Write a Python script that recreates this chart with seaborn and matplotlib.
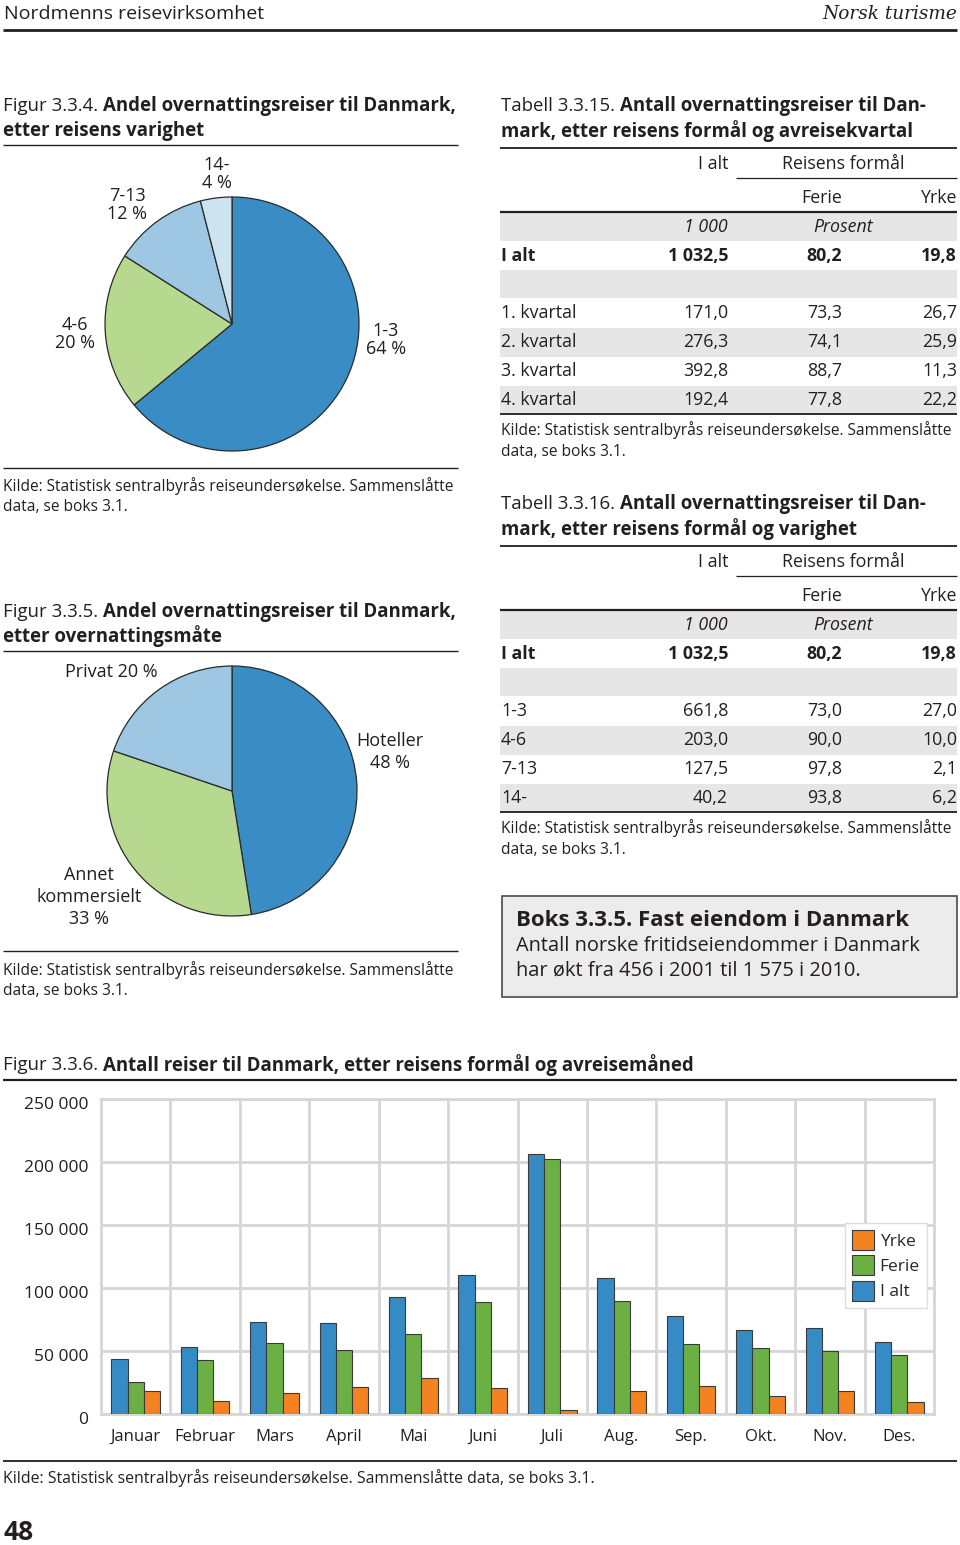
import numpy as np
import pandas as pd
import matplotlib
matplotlib.use("Agg")
import matplotlib.pyplot as plt
import matplotlib.transforms as mtransforms
import seaborn as sns
from matplotlib import font_manager
from matplotlib.patches import Rectangle, Patch
from matplotlib.ticker import FuncFormatter

# ---------------- data ----------------
header_left = "Nordmenns reisevirksomhet"
header_right = "Norsk turisme"
source_text = "Kilde: Statistisk sentralbyrås reiseundersøkelse. Sammenslåtte"
source_text2 = "data, se boks 3.1."

pie1_labels = ["1-3", "4-6", "7-13", "14-"]
pie1_values = [64, 20, 12, 4]

pie2_labels = ["Hoteller", "Annet\nkommersielt", "Privat"]
pie2_values = [48, 33, 20]

tab_total = ["1 032,5", "80,2", "19,8"]
tab15_rows = ["1. kvartal", "2. kvartal", "3. kvartal", "4. kvartal"]
tab15_ialt = ["171,0", "276,3", "392,8", "192,4"]
tab15_ferie = ["73,3", "74,1", "88,7", "77,8"]
tab15_yrke = ["26,7", "25,9", "11,3", "22,2"]
tab16_rows = ["1-3", "4-6", "7-13", "14-"]
tab16_ialt = ["661,8", "203,0", "127,5", "40,2"]
tab16_ferie = ["73,0", "90,0", "97,8", "93,8"]
tab16_yrke = ["27,0", "10,0", "2,1", "6,2"]

months = ["Januar", "Februar", "Mars", "April", "Mai", "Juni", "Juli",
          "Aug.", "Sep.", "Okt.", "Nov.", "Des."]
series = ["I alt", "Ferie", "Yrke"]
ialt = [43600, 53200, 73300, 72500, 92600, 110000, 206000, 108200, 77500, 66400, 68500, 56900]
ferie = [25100, 42900, 56100, 50800, 63800, 89200, 202400, 90000, 55300, 52100, 49700, 46600]
yrke = [18000, 10000, 16900, 21400, 28600, 20900, 3200, 18000, 22000, 14000, 18300, 9500]
yticks = [0, 50000, 100000, 150000, 200000, 250000]

# ---------------- style ----------------
sns.set_style("white")
avail = {f.name for f in font_manager.fontManager.ttflist}
MAIN = "Open Sans" if "Open Sans" in avail else "DejaVu Sans"
COND = "Liberation Sans Narrow" if "Liberation Sans Narrow" in avail else MAIN
plt.rcParams["font.family"] = [MAIN, "DejaVu Sans"]

INK = "#231f20"
GRAY = "#e6e6e6"
BLUE = "#3a8cc4"
PGREEN = "#b7d98f"
PLBLUE = "#9dc7e2"
PVLBLUE = "#cde3f0"
BBLUE = "#368bc5"
BGREEN = "#6cb043"
BORANGE = "#f48220"
GRID = "#d6d6d6"

W, H = 960, 1545
fig = plt.figure(figsize=(W / 100, H / 100), dpi=100)
page = fig.add_axes([0, 0, 1, 1])
page.set_xlim(0, W)
page.set_ylim(H, 0)
page.axis("off")


def rect(x0, y0, x1, y1):
    return [x0 / W, 1 - y1 / H, (x1 - x0) / W, (y1 - y0) / H]


def hline(y, x0, x1, lw=1.0, color=INK):
    page.plot([x0, x1], [y, y], color=color, lw=lw, solid_capstyle="butt", zorder=3)


def band(y0, y1, x0=500, x1=957):
    page.add_patch(Rectangle((x0, y0), x1 - x0, y1 - y0, facecolor=GRAY, edgecolor="none", zorder=1))


def txt(x, y, s, size, ha="left", weight="normal", style="normal", family=None, **kw):
    return page.text(x, y, s, fontsize=size, ha=ha, va="center", fontweight=weight,
                     fontstyle=style, color=INK, family=family or [MAIN, "DejaVu Sans"],
                     zorder=4, **kw)


def rich(x, y, parts, size):
    prev = None
    for s, w in parts:
        if prev is None:
            prev = txt(x, y, s, size, weight=w)
        else:
            prev = page.annotate(s, xy=(1, 0.5), xycoords=prev, va="center", ha="left",
                                 fontsize=size, fontweight=w, color=INK, zorder=4)
    return prev


TS = 13.4   # title size
BS = 12.8   # table body
SS = 11.2   # source size
PS = 13.0   # pie labels

# ---------------- header ----------------
txt(4, 14, header_left, 14)
txt(957, 14, header_right, 13.3, ha="right", style="italic", family=["DejaVu Serif"])
hline(30, 3, 957, lw=2.0)

# ---------------- Figur 3.3.4 ----------------
rich(3, 106, [("Figur 3.3.4. ", "normal"), ("Andel overnattingsreiser til Danmark,", "bold")], TS)
txt(3, 131, "etter reisens varighet", TS, weight="bold")
hline(145, 3, 458, lw=1.0)

ax1 = fig.add_axes(rect(232 - 130, 324 - 130, 232 + 130, 324 + 130))
ax1.pie(pie1_values, colors=[BLUE, PGREEN, PLBLUE, PVLBLUE], startangle=90, counterclock=False,
        wedgeprops=dict(edgecolor="#2a2a2a", linewidth=0.9))
ax1.set_xlim(-130 / 127, 130 / 127)
ax1.set_ylim(-130 / 127, 130 / 127)
ax1.set_aspect("equal")
ax1.axis("off")
pie1_pos = [(386, 340), (75, 334), (127, 205), (217, 174)]
for (px, py), lab, v in zip(pie1_pos, pie1_labels, pie1_values):
    txt(px, py, f"{lab}\n{v} %", PS, ha="center", multialignment="center", linespacing=1.0)

hline(468, 3, 458, lw=1.0)
txt(3, 486, source_text, SS)
txt(3, 507, source_text2, SS)

# ---------------- Figur 3.3.5 ----------------
rich(3, 612, [("Figur 3.3.5. ", "normal"), ("Andel overnattingsreiser til Danmark,", "bold")], TS)
txt(3, 636, "etter overnattingsmåte", TS, weight="bold")
hline(651, 3, 458, lw=1.0)

ax2 = fig.add_axes(rect(232 - 128, 791 - 128, 232 + 128, 791 + 128))
ax2.pie(pie2_values, colors=[BLUE, PGREEN, PLBLUE], startangle=90, counterclock=False,
        wedgeprops=dict(edgecolor="#2a2a2a", linewidth=0.9))
ax2.set_xlim(-128 / 125, 128 / 125)
ax2.set_ylim(-128 / 125, 128 / 125)
ax2.set_aspect("equal")
ax2.axis("off")
txt(390, 752, f"{pie2_labels[0]}\n{pie2_values[0]} %", PS, ha="center", multialignment="center", linespacing=1.32)
txt(89, 897, f"{pie2_labels[1]}\n{pie2_values[1]} %", PS, ha="center", multialignment="center", linespacing=1.32)
txt(111, 672, f"{pie2_labels[2]} {pie2_values[2]} %", PS, ha="center")

hline(951, 3, 458, lw=1.0)
txt(3, 970, source_text, SS)
txt(3, 991, source_text2, SS)


# ---------------- tables ----------------
def table(dy, title_nr, title2, rows, c1, c2, c3):
    rich(501, 106 + dy, [(f"Tabell {title_nr}. ", "normal"), ("Antall overnattingsreiser til Dan-", "bold")], TS)
    txt(501, 131 + dy, title2, TS, weight="bold")
    hline(148 + dy, 500, 957, lw=1.3)
    txt(728, 164 + dy, "I alt", BS, ha="right")
    txt(843, 164 + dy, "Reisens formål", BS, ha="center")
    hline(178 + dy, 736, 957, lw=0.9)
    txt(842, 198 + dy, "Ferie", BS, ha="right")
    txt(957, 198 + dy, "Yrke", BS, ha="right")
    hline(212 + dy, 500, 957, lw=1.6)
    band(213 + dy, 241 + dy)
    txt(728, 227 + dy, "1 000", BS, ha="right", style="italic")
    txt(843, 227 + dy, "Prosent", BS, ha="center", style="italic")
    txt(501, 256 + dy, "I alt", BS, weight="bold")
    for xr, v in zip([728, 842, 957], tab_total):
        txt(xr, 256 + dy, v, BS, ha="right", weight="bold")
    band(270 + dy, 298 + dy)
    for i, (r, a, b, c) in enumerate(zip(rows, c1, c2, c3)):
        yc = 313 + 29 * i + dy
        if i % 2 == 1:
            band(yc - 14.5, yc + 14.5)
        txt(501, yc, r, BS)
        txt(728, yc, a, BS, ha="right")
        txt(842, yc, b, BS, ha="right")
        txt(957, yc, c, BS, ha="right")
    hline(414 + dy, 500, 957, lw=1.3)
    txt(501, 430 + dy, source_text, SS)
    txt(501, 452 + dy, source_text2, SS)


table(0, "3.3.15", "mark, etter reisens formål og avreisekvartal",
      tab15_rows, tab15_ialt, tab15_ferie, tab15_yrke)
table(398, "3.3.16", "mark, etter reisens formål og varighet",
      tab16_rows, tab16_ialt, tab16_ferie, tab16_yrke)

# ---------------- Boks ----------------
page.add_patch(Rectangle((502, 896), 455, 101, facecolor="#ececec", edgecolor="#4a4a4a",
                         linewidth=1.2, zorder=1))
txt(516, 921, "Boks 3.3.5. Fast eiendom i Danmark", 16, weight="bold")
txt(516, 946, "Antall norske fritidseiendommer i Danmark", 14.4)
txt(516, 971, "har økt fra 456 i 2001 til 1 575 i 2010.", 14.4)

# ---------------- Figur 3.3.6 ----------------
rich(3, 1065, [("Figur 3.3.6. ", "normal"),
               ("Antall reiser til Danmark, etter reisens formål og avreisemåned", "bold")], TS)
hline(1080, 3, 957, lw=1.6)

df = pd.DataFrame({
    "Måned": months * 3,
    "Serie": [series[0]] * 12 + [series[1]] * 12 + [series[2]] * 12,
    "Antall": ialt + ferie + yrke,
})
axb = fig.add_axes(rect(101, 1099, 934, 1414))
sns.barplot(data=df, x="Måned", y="Antall", hue="Serie", hue_order=series,
            palette=[BBLUE, BGREEN, BORANGE], width=0.7, gap=0, saturation=1,
            edgecolor="#3a3a3a", linewidth=0.8, ax=axb, legend=False, zorder=3)
axb.set_xlim(-0.5, 11.5)
axb.set_ylim(0, 250000)
axb.set_yticks(yticks)
axb.yaxis.set_major_formatter(FuncFormatter(lambda v, p: f"{int(v):,}".replace(",", " ")))
axb.set_xticks(np.arange(0.5, 11, 1), minor=True)
axb.set_axisbelow(True)
axb.grid(axis="y", which="major", color=GRID, lw=2)
axb.grid(axis="x", which="minor", color=GRID, lw=2)
axb.grid(axis="x", which="major", visible=False)
for s in axb.spines.values():
    s.set_color(GRID)
    s.set_linewidth(2)
axb.tick_params(axis="both", which="both", length=0)
axb.tick_params(axis="y", pad=9)
axb.tick_params(axis="x", pad=11)
shift = mtransforms.ScaledTranslation(0, -4 / 100, fig.dpi_scale_trans)
for lab in axb.get_yticklabels():
    lab.set_family([COND, "DejaVu Sans"])
    lab.set_fontsize(12.5)
    lab.set_color(INK)
    lab.set_transform(lab.get_transform() + shift)
for lab in axb.get_xticklabels():
    lab.set_family([COND, "DejaVu Sans"])
    lab.set_fontsize(12)
    lab.set_color(INK)
axb.set_xlabel("")
axb.set_ylabel("")

handles = [Patch(facecolor=c, edgecolor="#3a3a3a", linewidth=0.8, label=l)
           for c, l in zip([BORANGE, BGREEN, BBLUE], series[::-1])]
leg = axb.legend(handles=handles, loc="upper left", bbox_to_anchor=(0.893, 0.606),
                 frameon=True, fancybox=False, edgecolor="#dddddd", framealpha=1,
                 handlelength=1.3, handleheight=1.4, handletextpad=0.3,
                 labelspacing=0.3, borderpad=0.4, borderaxespad=0,
                 prop={"family": [COND, "DejaVu Sans"], "size": 12.5})

hline(1461, 3, 957, lw=1.3)
txt(3, 1478, "Kilde: Statistisk sentralbyrås reiseundersøkelse. Sammenslåtte data, se boks 3.1.", 11.4,
    family=[COND, "DejaVu Sans"])
txt(4, 1532, "48", 19, weight="bold", family=[COND, "DejaVu Sans"])

fig.savefig("out.png", dpi=100)
